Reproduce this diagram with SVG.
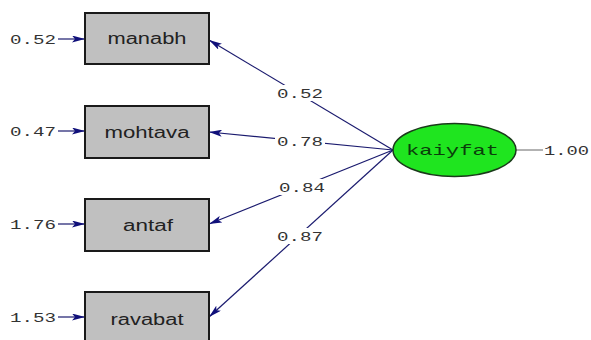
<svg xmlns="http://www.w3.org/2000/svg" width="591" height="340" viewBox="0 0 591 340">
<defs>
<marker id="ah" viewBox="0 0 13 7" refX="13" refY="3.5" markerWidth="13" markerHeight="7" markerUnits="userSpaceOnUse" orient="auto">
<path d="M0,0 L13,3.5 L0,7 L3,3.5 Z" fill="#10107a"/>
</marker>
<style>
.box{fill:#c0c0c0;stroke:#1a1a1a;stroke-width:2}
.bt{font-family:"Liberation Sans",Arial,sans-serif;font-size:16px;fill:#222;text-anchor:middle}
.num{font-family:"Liberation Mono","Courier New",monospace;font-size:13px;fill:#333}
.ln{stroke:#1a1a6e;stroke-width:1.2;fill:none;marker-end:url(#ah)}
.bg{fill:#fff}
</style>
</defs>
<rect width="591" height="340" fill="#fff"/>
<g id="connectors">
<line class="ln" x1="393" y1="150" x2="209" y2="40"/>
<line class="ln" x1="393" y1="150" x2="209" y2="132"/>
<line class="ln" x1="393" y1="150" x2="209" y2="224"/>
<line class="ln" x1="393" y1="150" x2="209" y2="317"/>
<line class="ln" x1="58" y1="39" x2="85" y2="39"/>
<line class="ln" x1="58" y1="131" x2="85" y2="131"/>
<line class="ln" x1="58" y1="224" x2="85" y2="224"/>
<line class="ln" x1="58" y1="317" x2="85" y2="317"/>
<line x1="516" y1="150" x2="543" y2="150" stroke="#666" stroke-width="1"/>
<rect class="bg" x="275" y="85" width="50" height="16"/>
<rect class="bg" x="275" y="133" width="50" height="16"/>
<rect class="bg" x="277" y="179" width="50" height="16"/>
<rect class="bg" x="275" y="228" width="50" height="16"/>
<text class="num" x="277" y="98" textLength="46" lengthAdjust="spacingAndGlyphs">0.52</text>
<text class="num" x="277" y="146" textLength="46" lengthAdjust="spacingAndGlyphs">0.78</text>
<text class="num" x="279" y="192" textLength="46" lengthAdjust="spacingAndGlyphs">0.84</text>
<text class="num" x="277" y="241" textLength="46" lengthAdjust="spacingAndGlyphs">0.87</text>
<text class="num" x="10" y="44" textLength="46" lengthAdjust="spacingAndGlyphs">0.52</text>
<text class="num" x="10" y="136" textLength="46" lengthAdjust="spacingAndGlyphs">0.47</text>
<text class="num" x="10" y="229" textLength="46" lengthAdjust="spacingAndGlyphs">1.76</text>
<text class="num" x="10" y="322" textLength="46" lengthAdjust="spacingAndGlyphs">1.53</text>
<text class="num" x="544" y="155" textLength="45" lengthAdjust="spacingAndGlyphs">1.00</text>
</g>
<g id="manabh">
<rect class="box" x="85" y="13" width="124" height="51"/>
<text class="bt" x="147" y="44" textLength="79" lengthAdjust="spacingAndGlyphs">manabh</text>
</g>
<g id="mohtava">
<rect class="box" x="85" y="106" width="124" height="52"/>
<text class="bt" x="147" y="138" textLength="85" lengthAdjust="spacingAndGlyphs">mohtava</text>
</g>
<g id="antaf">
<rect class="box" x="85" y="199" width="124" height="52"/>
<text class="bt" x="148" y="231" textLength="50" lengthAdjust="spacingAndGlyphs">antaf</text>
</g>
<g id="ravabat">
<rect class="box" x="85" y="292" width="124" height="52"/>
<text class="bt" x="147" y="325" textLength="73" lengthAdjust="spacingAndGlyphs">ravabat</text>
</g>
<g id="kaiyfat">
<ellipse cx="454.5" cy="150" rx="61.5" ry="26.5" fill="#1fe51f" stroke="#1a3a1a" stroke-width="1.5"/>
<text x="406" y="155" font-family="Liberation Mono, Courier New, monospace" font-size="15" fill="#0b3d0b" textLength="93" lengthAdjust="spacingAndGlyphs">kaiyfat</text>
</g>
</svg>
